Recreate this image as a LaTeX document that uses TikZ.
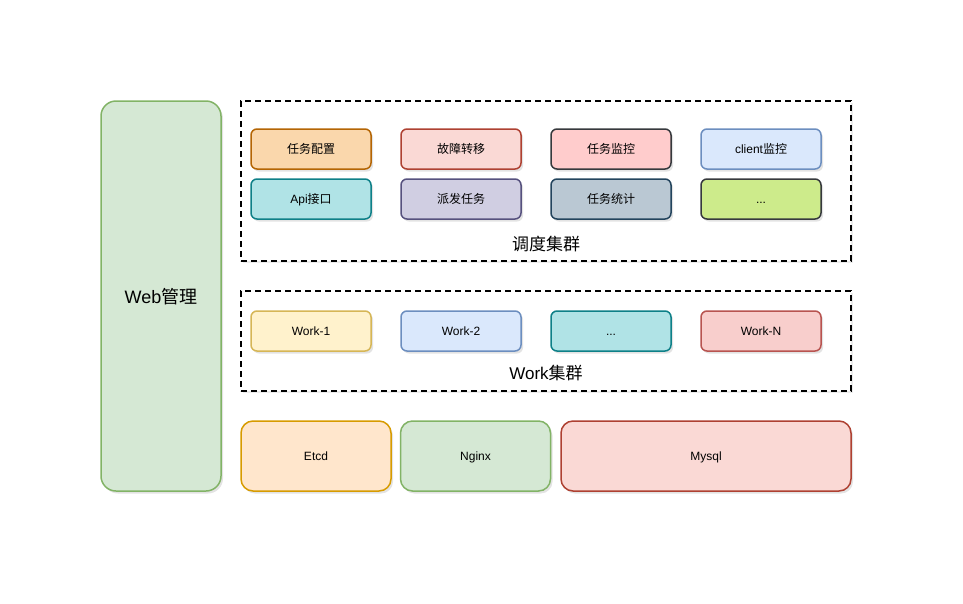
\documentclass[tikz,border=0pt]{standalone}
\usepackage{fontspec}
\setmainfont{Liberation Sans}
\newfontfamily\cjk{Noto Sans CJK SC}
\usetikzlibrary{shadows}
\definecolor{gF}{HTML}{D5E8D4}\definecolor{gS}{HTML}{82B366}
\definecolor{oF}{HTML}{FAD7AC}\definecolor{oS}{HTML}{B46504}
\definecolor{rF}{HTML}{FAD9D5}\definecolor{rS}{HTML}{AE4132}
\definecolor{pF}{HTML}{FFCCCC}\definecolor{pS}{HTML}{36393D}
\definecolor{bF}{HTML}{DAE8FC}\definecolor{bS}{HTML}{6C8EBF}
\definecolor{tF}{HTML}{B0E3E6}\definecolor{tS}{HTML}{0E8088}
\definecolor{vF}{HTML}{D0CEE2}\definecolor{vS}{HTML}{56517E}
\definecolor{sF}{HTML}{BAC8D3}\definecolor{sS}{HTML}{23445D}
\definecolor{lF}{HTML}{CDEB8B}\definecolor{lS}{HTML}{36393D}
\definecolor{yF}{HTML}{FFF2CC}\definecolor{yS}{HTML}{D6B656}
\definecolor{wF}{HTML}{F8CECC}\definecolor{wS}{HTML}{B85450}
\definecolor{eF}{HTML}{FFE6CC}\definecolor{eS}{HTML}{D79B00}
\tikzset{
  box/.style={draw, line width=1.5pt, rounded corners=6pt, minimum width=120pt, minimum height=40pt, inner sep=0pt, text height=10pt, text depth=1pt, font=\fontsize{12}{14}\selectfont, drop shadow={opacity=0.22, shadow xshift=2pt, shadow yshift=-2.5pt}},
  big/.style={box, rounded corners=12pt, minimum height=70pt},
  group/.style={draw, line width=1.5pt, dash pattern=on 6pt off 4pt, inner sep=0pt, drop shadow={opacity=0.15, shadow xshift=2pt, shadow yshift=-2pt}, fill=white},
  glabel/.style={font=\fontsize{17}{20}\selectfont, inner sep=0pt}
}
\begin{document}
\begin{tikzpicture}[x=1pt,y=-1pt]
\useasboundingbox (0,0) rectangle (963,603);
% left web
\node[box, rounded corners=15pt, fill=gF, draw=gS, minimum width=120pt, minimum height=390pt, text height=16pt, text depth=2pt, font=\fontsize{18}{20}\selectfont] (web) at (161,296) {Web{\cjk 管理}};
% group 1
\node[group, minimum width=610pt, minimum height=160pt] (g1) at (546,181) {};
\node[glabel] (g1l) at (546,244) {\cjk 调度集群};
\node[box, fill=oF, draw=oS] (a1) at (311,149) {\cjk 任务配置};
\node[box, fill=rF, draw=rS] (a2) at (461,149) {\cjk 故障转移};
\node[box, fill=pF, draw=pS] (a3) at (611,149) {\cjk 任务监控};
\node[box, fill=bF, draw=bS] (a4) at (761,149) {client{\cjk 监控}};
\node[box, fill=tF, draw=tS] (b1) at (311,199) {Api{\cjk 接口}};
\node[box, fill=vF, draw=vS] (b2) at (461,199) {\cjk 派发任务};
\node[box, fill=sF, draw=sS] (b3) at (611,199) {\cjk 任务统计};
\node[box, fill=lF, draw=lS] (b4) at (761,199) {...};
% group 2
\node[group, minimum width=610pt, minimum height=100pt] (g2) at (546,341) {};
\node[glabel] (g2l) at (546,373) {Work{\cjk 集群}};
\node[box, fill=yF, draw=yS] (w1) at (311,331) {Work-1};
\node[box, fill=bF, draw=bS] (w2) at (461,331) {Work-2};
\node[box, fill=tF, draw=tS] (w3) at (611,331) {...};
\node[box, fill=wF, draw=wS] (w4) at (761,331) {Work-N};
% bottom
\node[big, fill=eF, draw=eS, minimum width=150pt] (etcd) at (316,456) {Etcd};
\node[big, fill=gF, draw=gS, minimum width=150pt] (nginx) at (475.5,456) {Nginx};
\node[big, fill=rF, draw=rS, minimum width=290pt] (mysql) at (706,456) {Mysql};
\end{tikzpicture}
\end{document}
